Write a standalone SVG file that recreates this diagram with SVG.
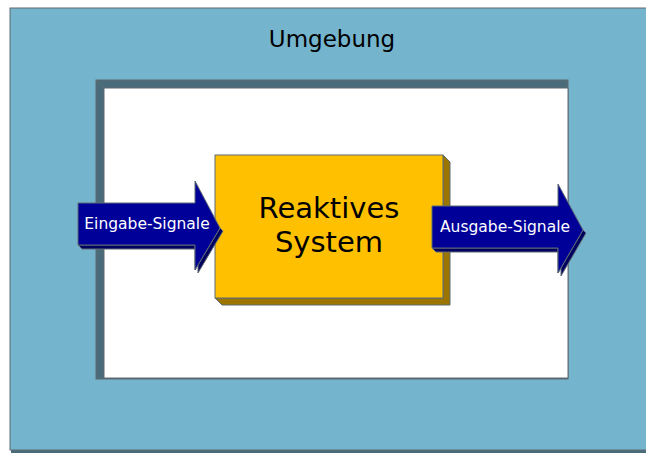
<svg xmlns="http://www.w3.org/2000/svg" width="646" height="454" viewBox="0 0 646 454">
<style>
.edge{stroke:#5f6b73;stroke-width:1}
.lbl{font-family:"DejaVu Sans",Verdana,sans-serif;fill:#000;text-anchor:middle}
.alb{font-family:"DejaVu Sans",Verdana,sans-serif;fill:#fff;font-size:15.5px;text-anchor:middle}
</style>
<rect width="646" height="454" fill="#fff"/>
<g id="umgebung">
<rect x="11" y="10" width="640" height="443" fill="#4a6c7a"/>
<rect x="10" y="8" width="640" height="442" fill="#74b5cd" class="edge"/>
<text class="lbl" x="332" y="47" font-size="23">Umgebung</text>
</g>
<g id="rahmen">
<rect x="96" y="80" width="472" height="299" fill="#4a6c7a" class="edge"/>
<rect x="104" y="88" width="464" height="290" fill="#fff" class="edge"/>
<line x1="96" y1="80" x2="104" y2="88" class="edge"/>
</g>
<g id="system">
<polygon points="443,155 450,162 450,305 222,305 215,298 443,298" fill="#9c7400" class="edge"/>
<rect x="215" y="155" width="228" height="143" fill="#ffc000" class="edge"/>
<text class="lbl" font-size="29"><tspan x="329" y="218">Reaktives</tspan><tspan x="329" y="252">System</tspan></text>
</g>
<g id="connectors">
<g id="eingabe">
<polygon points="78,245 82,249 198,249 198,273 223,231 220,228 195,270 195,245" fill="#000060" class="edge"/>
<polygon points="78,203 195,203 195,181 220,228 195,270 195,245 78,245" fill="#000099" class="edge"/>
<text class="alb" x="147" y="229">Eingabe-Signale</text>
</g>
<g id="ausgabe">
<polygon points="432,248 436,252 561,252 561,276 586,233 583,230 558,273 558,248" fill="#000060" class="edge"/>
<polygon points="432,206 558,206 558,184 583,230 558,273 558,248 432,248" fill="#000099" class="edge"/>
<text class="alb" x="505" y="232">Ausgabe-Signale</text>
</g>
</g>
</svg>
